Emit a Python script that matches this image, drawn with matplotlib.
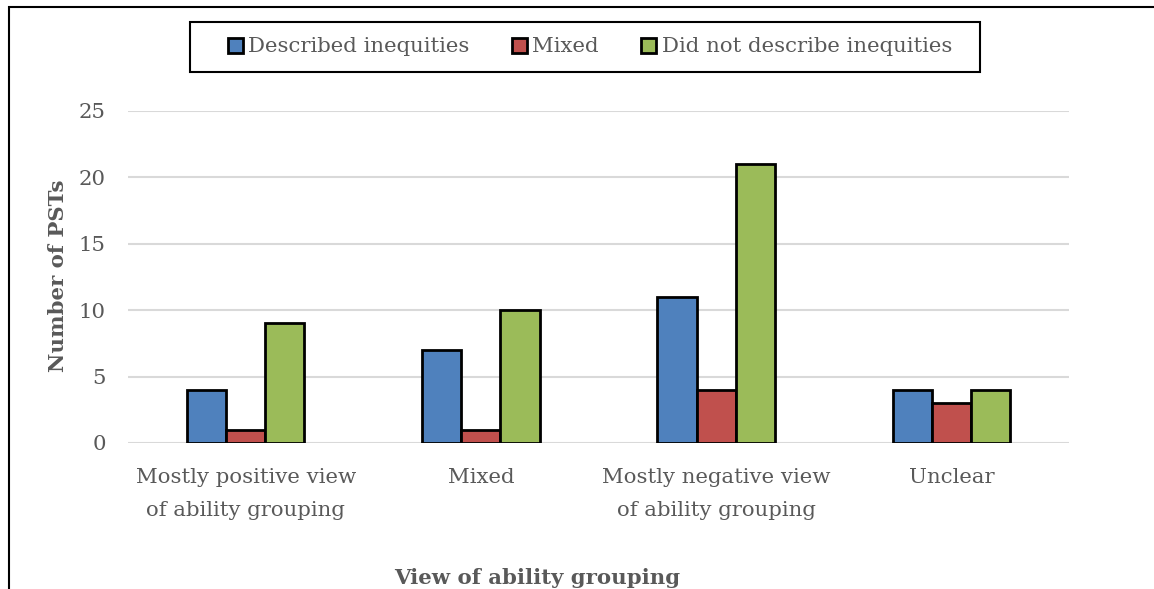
import matplotlib
matplotlib.use("Agg")
import matplotlib.pyplot as plt
import numpy as np
from matplotlib.patches import Rectangle

categories = ["Mostly positive view\nof ability grouping", "Mixed",
              "Mostly negative view\nof ability grouping", "Unclear"]
series_names = ["Described inequities", "Mixed", "Did not describe inequities"]
described = [4, 7, 11, 4]
mixed = [1, 1, 4, 3]
not_described = [9, 10, 21, 4]
colors = ["#4F81BD", "#C0504D", "#9BBB59"]
yticks = [0, 5, 10, 15, 20, 25]

plt.rcParams['font.family'] = ['DejaVu Serif']
W, H = 1154, 589
fig = plt.figure(figsize=(W/100, H/100), dpi=100)
ax = fig.add_axes([128/W, 1-443/H, (1069-128)/W, (443-111)/H])

x = np.arange(len(categories))
bw = 1/6
for i, (vals, name, c) in enumerate(zip([described, mixed, not_described], series_names, colors)):
    ax.bar(x + (i-1)*bw, vals, bw, color=c, edgecolor='black', linewidth=2,
           label=name, zorder=3)

fs = 15.3
ax.set_xlim(-0.5, 3.5)
ax.set_ylim(0, 25)
ax.set_yticks(yticks)
ax.set_xticks(x)
ax.set_xticklabels(categories, fontsize=fs, color='#595959', linespacing=1.9)
ax.tick_params(axis='y', labelsize=fs, labelcolor='#595959', length=0, pad=16)
ax.tick_params(axis='x', length=0, pad=18)
ax.grid(axis='y', color='#D9D9D9', linewidth=1.5, zorder=0)
for s in ax.spines.values():
    s.set_visible(False)

fig.text(58/W, 1-276/H, "Number of PSTs", rotation=90, ha='center', va='center',
         fontsize=fs, fontweight='bold', color='#595959')
fig.text(537/W, 1-578/H, "View of ability grouping", ha='center', va='center',
         fontsize=fs, fontweight='bold', color='#595959')

leg = fig.legend(loc='center', bbox_to_anchor=(590/W, 1-47/H), ncol=3,
                 fontsize=fs, frameon=False,
                 handlelength=0.7, handleheight=0.7, handletextpad=0.25,
                 columnspacing=2.0, borderpad=0.3)
for t in leg.get_texts():
    t.set_color('#595959')

fig.patches.append(Rectangle((190/W, 1-72/H), (980-190)/W, 50/H, transform=fig.transFigure,
                             fill=False, edgecolor='black', linewidth=1.5))
fig.patches.append(Rectangle((9/W, -0.1), 1.2, 1-7/H+0.1, transform=fig.transFigure,
                             fill=False, edgecolor='black', linewidth=1.5))

fig.savefig("out.png", dpi=100)
